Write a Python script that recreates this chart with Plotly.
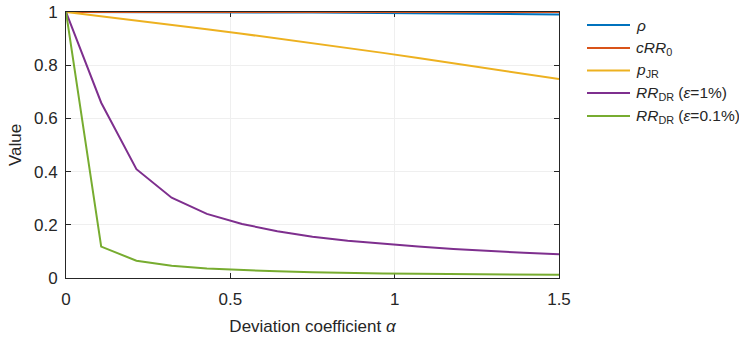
import plotly.graph_objects as go

# Deviation coefficient alpha (15 evaluation points from 0 to 1.5)
alpha = [0.0, 0.1071, 0.2143, 0.3214, 0.4286, 0.5357, 0.6429, 0.75,
         0.8571, 0.9643, 1.0714, 1.1786, 1.2857, 1.3929, 1.5]

rho = [1.000, 1.000, 0.9998, 0.9996, 0.9993, 0.9989, 0.9984, 0.9978,
       0.9971, 0.9963, 0.9954, 0.9945, 0.9934, 0.9922, 0.9910]
c_rr0 = [1.0] * 15
p_jr = [1.0, 0.9844, 0.9684, 0.9521, 0.9354, 0.9183, 0.9008, 0.883,
        0.8648, 0.8463, 0.8273, 0.8081, 0.7884, 0.7684, 0.748]
rr_dr_1 = [1.0, 0.659, 0.409, 0.302, 0.241, 0.203, 0.176, 0.155,
           0.140, 0.128, 0.118, 0.109, 0.101, 0.095, 0.089]
rr_dr_01 = [1.0, 0.118, 0.065, 0.046, 0.036, 0.030, 0.025, 0.022,
            0.019, 0.017, 0.016, 0.015, 0.014, 0.013, 0.012]

x_ticks = [0, 0.5, 1, 1.5]
y_ticks = [0, 0.2, 0.4, 0.6, 0.8, 1]

series = [
    ("<i>ρ</i>", rho, "#0072BD"),
    ("<i>cRR</i><sub>0</sub>", c_rr0, "#D95319"),
    ("<i>p</i><sub>JR</sub>", p_jr, "#EDB120"),
    ("<i>RR</i><sub>DR</sub> (<i>ε</i>=1%)", rr_dr_1, "#7E2F8E"),
    ("<i>RR</i><sub>DR</sub> (<i>ε</i>=0.1%)", rr_dr_01, "#77AC30"),
]

FONT = "Liberation Sans, Arial, Helvetica, sans-serif"
INK = "#262626"

# plot box in pixels
W, H = 739, 341
L, R, T, B = 66, 180, 12, 63
plot_w, plot_h = W - L - R, H - T - B

fig = go.Figure()
for name, ys, color in series:
    fig.add_trace(go.Scatter(x=alpha, y=ys, name=name, mode="lines",
                             line=dict(color=color, width=2),
                             cliponaxis=False, showlegend=False))

# legend drawn to the right of the axes: a line sample plus a label per series
leg_x0, leg_x1, leg_text_x = 587, 630, 634
leg_y = [25, 48, 70.5, 93, 116]
for (name, _, color), ly in zip(series, leg_y):
    yp = 1 - (ly - T) / plot_h
    fig.add_shape(type="line", xref="paper", yref="paper",
                  x0=(leg_x0 - L) / plot_w, x1=(leg_x1 - L) / plot_w, y0=yp, y1=yp,
                  line=dict(color=color, width=2))
    fig.add_annotation(xref="paper", yref="paper", x=(leg_text_x - L) / plot_w, y=yp,
                       xanchor="left", yanchor="middle", showarrow=False,
                       text=name, font=dict(family=FONT, size=15.5, color=INK))

axis_common = dict(
    showline=True, linecolor=INK, linewidth=1,
    mirror="ticks", ticks="inside", ticklen=5, tickcolor=INK,
    showgrid=True, gridcolor="#efefef", gridwidth=1,
    zeroline=False, layer="below traces", automargin=False,
    tickfont=dict(family=FONT, size=17, color=INK),
)

fig.update_xaxes(range=[0, 1.5], tickvals=x_ticks, ticktext=[f"{v:g}" for v in x_ticks],
                 ticklabelstandoff=6,
                 title=dict(text="Deviation coefficient <i>α</i>", standoff=11,
                            font=dict(family=FONT, size=17, color=INK)),
                 **axis_common)
fig.update_yaxes(range=[0, 1], tickvals=y_ticks, ticktext=[f"{v:g}" for v in y_ticks],
                 ticklabelstandoff=4,
                 title=dict(text="Value", standoff=8,
                            font=dict(family=FONT, size=17, color=INK)),
                 **axis_common)

fig.update_layout(
    width=W, height=H,
    margin=dict(l=L, r=R, t=T, b=B),
    paper_bgcolor="white", plot_bgcolor="white",
    font=dict(family=FONT, size=17, color=INK),
    showlegend=False,
)

fig.write_html("out.html")
